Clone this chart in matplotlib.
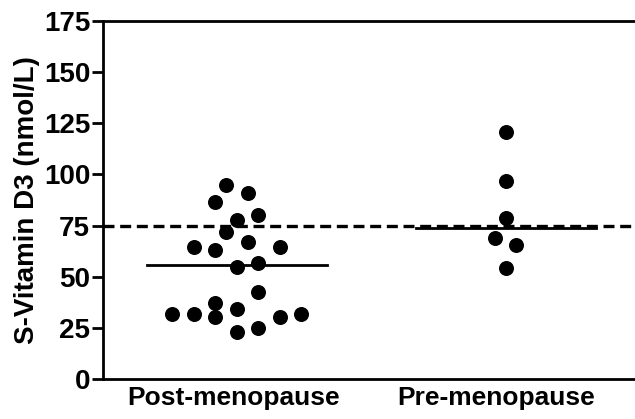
import matplotlib
matplotlib.use("Agg")
import matplotlib.pyplot as plt
import matplotlib.transforms as mtransforms

plt.rcParams['font.family'] = ['Liberation Sans', 'DejaVu Sans']
plt.rcParams['font.weight'] = 'bold'

# Data
groups = ['Post-menopause', 'Pre-menopause']
post_values = [94.8, 90.8, 86.7, 77.7, 80.2, 72.0, 64.7, 63.0, 67.1, 64.7, 54.9,
               56.8, 42.7, 37.0, 34.1, 31.8, 31.8, 30.2, 31.8, 30.2, 24.8, 22.8]
pre_values = [120.6, 96.9, 78.5, 68.8, 65.5, 54.1]
reference_level = 75
yticks = [0, 25, 50, 75, 100, 125, 150, 175]

# swarm column of each point (layout only)
post_slot = [-0.5, 0.5, -1, 0, 1, -0.5, -2, -1, 0.5, 2, 0, 1, 1, -1, 0, -3, -2, -1, 3, 2, 1, 0]
pre_slot = [0, 0, 0, -0.5, 0.5, 0]
slot_step = 0.08

fig = plt.figure(figsize=(6.35, 4.19), dpi=100)
ax = fig.add_axes([0.1617, 0.0955, 0.8383, 0.8545])

for i, (vals, slots) in enumerate([(post_values, post_slot), (pre_values, pre_slot)]):
    xs = [i + s * slot_step for s in slots]
    ax.plot(xs, vals, 'o', color='black', markersize=10.8, markeredgewidth=0, zorder=3)
    med = sorted(vals)
    n = len(med)
    m = med[n // 2] if n % 2 else (med[n // 2 - 1] + med[n // 2]) / 2
    ax.plot([i - 0.335, i + 0.335], [m, m], color='black', lw=2.0, zorder=2)

ax.axhline(reference_level, color='black', lw=2.4, dashes=(3.3, 1.7), zorder=2)

ax.set_xlim(-0.4987, 1.481)
ax.set_ylim(0, 175)
ax.set_yticks(yticks)
ax.set_xticks([0, 1])
ax.set_xticklabels(groups, fontsize=19, fontweight='bold')
ax.tick_params(axis='x', length=0, pad=5)
ax.tick_params(axis='y', length=8, width=2, labelsize=20, pad=1)
for lab in ax.get_yticklabels():
    lab.set_fontweight('bold')
for lab, dx in zip(ax.get_xticklabels(), [-3, -10]):
    lab.set_transform(lab.get_transform() + mtransforms.ScaledTranslation(dx / 100, 0, fig.dpi_scale_trans))
ax.spines['right'].set_visible(False)
for s in ['left', 'top', 'bottom']:
    ax.spines[s].set_linewidth(2)
ax.set_ylabel('S-Vitamin D3 (nmol/L)', fontsize=20, fontweight='bold', labelpad=3)

fig.savefig('out.png', dpi=100)
